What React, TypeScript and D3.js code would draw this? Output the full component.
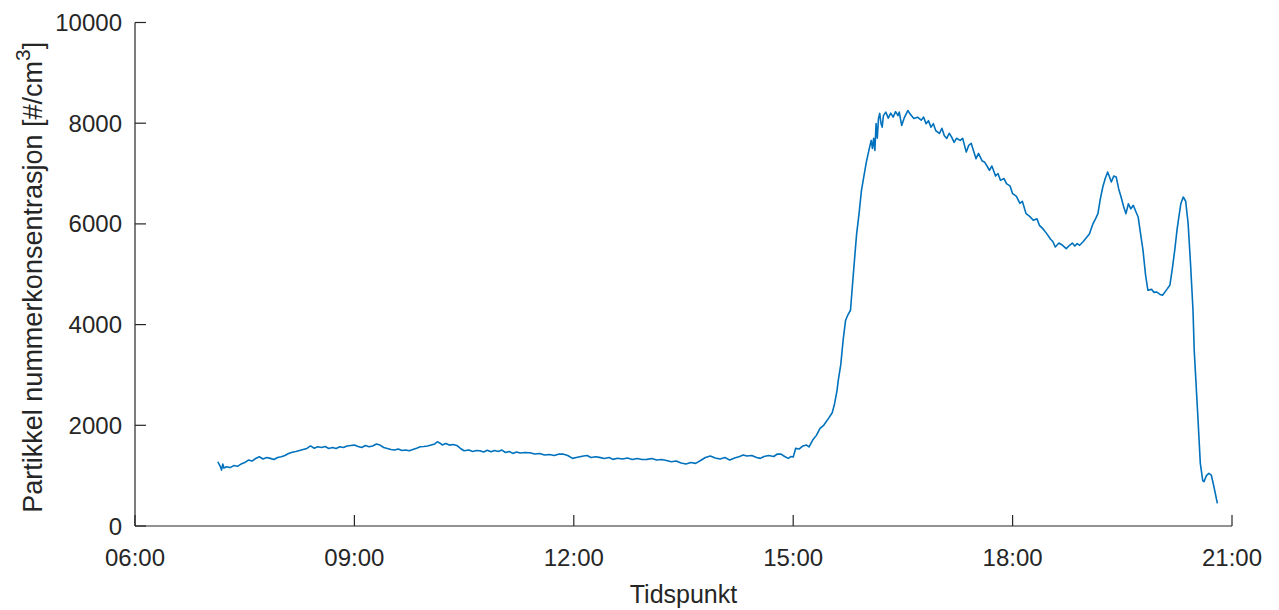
import React from "react";
import * as d3 from "d3";

const times: string[] = [
"07:08","07:10","07:11","07:12","07:13","07:15","07:18","07:21","07:24","07:27","07:30","07:33","07:36","07:39","07:42","07:45","07:48","07:51","07:54","07:57",
"08:00","08:03","08:06","08:09","08:12","08:15","08:18","08:21","08:24","08:27","08:30","08:33","08:36","08:39","08:42","08:45","08:48","08:51","08:54","08:57",
"09:00","09:03","09:06","09:09","09:12","09:15","09:18","09:21","09:24","09:27","09:30","09:33","09:36","09:39","09:42","09:45","09:48","09:51","09:54","09:57",
"10:00","10:03","10:06","10:08","10:10","10:12","10:15","10:18","10:21","10:24","10:27","10:30","10:34","10:37","10:40","10:43","10:46","10:49","10:52","10:55","10:58",
"11:01","11:04","11:07","11:10","11:13","11:16","11:20","11:24","11:28","11:32","11:36","11:40","11:44","11:48","11:51","11:55","11:59",
"12:02","12:05","12:08","12:11","12:14","12:18","12:21","12:25","12:29","12:32","12:36","12:40","12:44","12:48","12:52","12:56",
"13:00","13:04","13:08","13:12","13:16","13:20","13:24","13:28","13:32","13:36","13:40","13:44","13:48","13:52","13:56",
"14:00","14:04","14:08","14:12","14:16","14:19","14:22","14:26","14:30","14:33","14:36","14:40","14:44","14:47","14:50","14:53","14:56","14:58",
"15:00","15:02","15:05","15:08","15:11","15:13","15:16","15:19","15:22","15:25","15:29","15:32","15:34","15:36","15:37","15:39","15:41","15:43","15:45","15:47","15:49","15:51","15:52","15:54","15:56","15:58",
"16:00","16:02","16:04","16:05","16:06","16:07","16:08","16:09","16:10","16:11","16:12","16:13","16:14","16:16","16:18","16:20","16:22","16:24","16:26","16:27","16:29","16:31","16:33","16:34","16:36","16:39","16:42","16:45","16:47","16:49","16:51","16:53","16:55","16:57",
"17:00","17:02","17:04","17:06","17:08","17:10","17:12","17:14","17:17","17:19","17:22","17:24","17:26","17:28","17:30","17:32","17:35","17:37","17:39","17:41","17:43","17:46","17:48","17:50","17:53","17:55","17:58",
"18:00","18:03","18:06","18:08","18:11","18:14","18:17","18:20","18:22","18:25","18:28","18:31","18:33","18:35","18:38","18:41","18:44","18:47","18:49","18:51","18:53","18:55","18:58",
"19:00","19:03","19:06","19:08","19:10","19:12","19:14","19:16","19:18","19:20","19:21","19:23","19:25","19:27","19:29","19:31","19:33","19:35","19:37","19:39","19:41","19:43","19:45","19:47","19:49","19:51","19:54","19:56","19:58",
"20:01","20:03","20:06","20:09","20:11","20:13","20:15","20:16","20:18","20:20","20:22","20:24","20:26","20:28","20:29","20:32","20:34","20:36","20:37","20:39","20:41","20:43","20:45","20:48"
];

const values: number[] = [
1276,1180,1111,1230,1150,1177,1160,1200,1185,1230,1260,1310,1290,1340,1375,1330,1360,1343,1320,1360,
1375,1400,1440,1465,1480,1500,1520,1541,1590,1545,1573,1560,1580,1540,1560,1541,1575,1560,1590,1600,
1607,1580,1560,1600,1573,1590,1630,1607,1560,1540,1520,1508,1530,1500,1510,1494,1520,1545,1573,1580,
1590,1610,1630,1673,1650,1610,1640,1607,1620,1600,1540,1494,1510,1480,1500,1494,1470,1505,1474,1500,1480,
1508,1460,1480,1442,1470,1450,1460,1455,1430,1440,1409,1420,1400,1430,1428,1400,1343,
1360,1375,1389,1400,1360,1375,1363,1340,1360,1323,1345,1330,1350,1320,1340,1320,
1323,1340,1310,1320,1300,1276,1290,1250,1230,1260,1244,1300,1360,1389,1350,
1330,1360,1309,1350,1380,1409,1390,1400,1360,1343,1380,1400,1380,1430,1428,1380,1343,1380,
1370,1541,1530,1590,1607,1570,1706,1800,1938,2000,2137,2250,2434,2700,2897,3200,3700,4087,4200,4285,4900,5500,5793,6200,6666,6950,
7228,7450,7658,7500,7700,7460,7995,7700,8100,8194,8000,7922,8150,8220,8100,8200,8121,8230,8150,8220,7956,8100,8200,8253,8180,8095,8120,8060,8121,7990,8050,7922,7990,7850,
7797,7900,7750,7698,7800,7724,7620,7700,7658,7700,7426,7560,7600,7450,7295,7400,7250,7228,7150,7063,7150,6950,7000,6865,6900,6799,6750,
6601,6550,6408,6450,6204,6150,6071,6100,5972,5900,5807,5700,5650,5541,5620,5575,5509,5580,5620,5560,5608,5575,5650,
5708,5800,6006,6100,6204,6500,6733,6900,7030,6900,6832,6950,6931,6700,6534,6350,6204,6400,6300,6369,6250,6138,5800,5476,5000,4682,4700,4640,4649,
4600,4583,4680,4781,5100,5476,5900,6071,6400,6534,6450,6006,5200,4285,3492,2168,1244,900,879,1000,1046,1012,800,450
];

const xTickLabels: string[] = ["06:00", "09:00", "12:00", "15:00", "18:00", "21:00"];
const yTickValues: number[] = [0, 2000, 4000, 6000, 8000, 10000];

const parse = d3.timeParse("%H:%M");

export default function App() {
  const W = 1279, H = 610;
  const left = 135, right = 1232, top = 22.5, bottom = 526;
  const axisColor = "#262626";
  const font = "'Liberation Sans', Arial, Helvetica, sans-serif";

  const x = d3.scaleTime()
    .domain([parse("06:00") as Date, parse("21:00") as Date])
    .range([left, right]);
  const y = d3.scaleLinear().domain([0, 10000]).range([bottom, top]);

  const data = times.map((t, i) => ({ t: parse(t) as Date, v: values[i] }));
  const line = d3.line<{ t: Date; v: number }>()
    .x(d => x(d.t))
    .y(d => y(d.v));

  const tickLen = 11;

  return (
    <svg width={W} height={H} style={{ position: "absolute", left: 0, top: 0, background: "#fff" }}
      fontFamily={font}>
      <rect x={0} y={0} width={W} height={H} fill="#fff" />
      <path d={line(data) || ""} fill="none" stroke="#0072BD" strokeWidth={1.6} strokeLinejoin="round" />
      <line x1={left} x2={right} y1={bottom} y2={bottom} stroke={axisColor} strokeWidth={1.2} />
      <line x1={left} x2={left} y1={top} y2={bottom} stroke={axisColor} strokeWidth={1.2} />
      {xTickLabels.map(lbl => {
        const xp = x(parse(lbl) as Date);
        return (
          <g key={lbl}>
            <line x1={xp} x2={xp} y1={bottom} y2={bottom - tickLen} stroke={axisColor} strokeWidth={1.2} />
            <text x={xp} y={566} textAnchor="middle" fontSize={24} fill={axisColor}>{lbl}</text>
          </g>
        );
      })}
      {yTickValues.map(v => {
        const yp = y(v);
        return (
          <g key={v}>
            <line x1={left} x2={left + tickLen} y1={yp} y2={yp} stroke={axisColor} strokeWidth={1.2} />
            <text x={122} y={yp + 8.5} textAnchor="end" fontSize={24} fill={axisColor}>{v}</text>
          </g>
        );
      })}
      <text x={(left + right) / 2} y={603} textAnchor="middle" fontSize={25} fill={axisColor}>Tidspunkt</text>
      <text transform={`translate(42, ${(top + bottom) / 2 + 3}) rotate(-90)`} textAnchor="middle" fontSize={27} fill={axisColor}>
        Partikkel nummerkonsentrasjon [#/cm<tspan dy={-12} fontSize={21}>3</tspan><tspan dy={12}>]</tspan>
      </text>
    </svg>
  );
}
